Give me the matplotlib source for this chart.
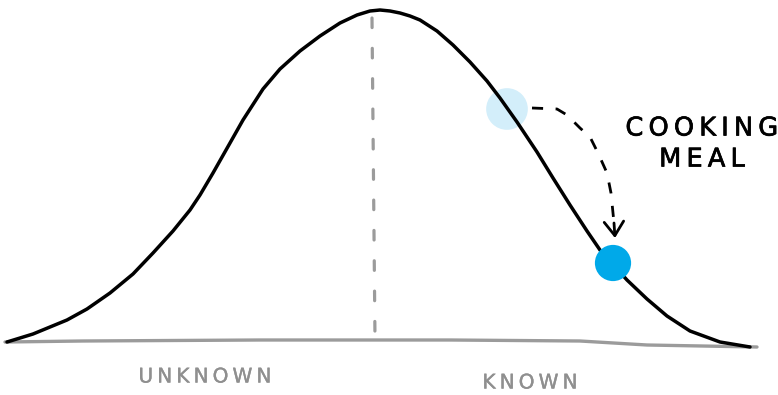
import matplotlib

matplotlib.use("Agg")

import matplotlib.patheffects as pe
import matplotlib.pyplot as plt

# values, in picture units (x to the right, y = height above the bottom edge)
FIG_W, FIG_H = 778, 395

curve_x = [7, 33, 67, 87, 110, 133, 153, 173, 190, 200, 213, 230, 243, 263, 280, 300, 320,
           340, 357, 370, 380, 390, 400, 410, 420, 437, 453, 470, 487, 500, 517, 537, 553,
           570, 587, 600, 627, 647, 667, 690, 720, 750]
curve_y = [53, 61, 75, 86, 102, 121, 142, 164, 185, 200, 222, 252, 275, 306, 326, 344, 359,
           372, 380, 384, 385, 384, 382, 379, 375, 364, 350, 333, 314, 297, 273, 243, 217,
           190, 164, 145, 115, 96, 79, 64, 53, 48]

base_x = [5, 83, 260, 450, 580, 647, 757]
base_y = [53, 54, 55, 55, 54, 50, 48]

mean_x = [372, 375]
mean_y = [377, 55]

arrow_x = [532, 557, 567, 580, 590, 598, 607, 611, 613, 614]
arrow_y = [287, 286, 280, 267, 258, 242, 222, 202, 182, 172]
arrow_tip = (615, 157)

before_point = (507, 286)
after_point = (613, 132)

label_text = "C\u2009O\u2009O\u2009K\u2009I\u2009N\u2009G\nM\u2009E\u2009A\u2009L"
label_pos = (702, 251)
axis_labels = ["U\u2009N\u2009K\u2009N\u2009O\u2009W\u2009N", "K\u2009N\u2009O\u2009W\u2009N"]
axis_label_x = [205, 530]
axis_label_y = [18, 12]

fig = plt.figure(figsize=(FIG_W / 100, FIG_H / 100), dpi=100)
ax = fig.add_axes([0, 0, 1, 1])
ax.set_xlim(0, FIG_W)
ax.set_ylim(0, FIG_H)
ax.axis("off")

# baseline and mean marker
ax.plot(base_x, base_y, color="#9b9b9b", lw=2.4, solid_capstyle="round", zorder=1)
ax.plot(mean_x, mean_y, color="#9b9b9b", lw=2.3, dashes=(3, 6.5), dash_capstyle="round", zorder=1)

# bell curve
ax.plot(curve_x, curve_y, color="black", lw=2.5, solid_joinstyle="round", solid_capstyle="round", zorder=2)

# points before / after
ax.scatter([before_point[0]], [before_point[1]], s=900, color="#d3eefa", edgecolors="none", zorder=1)
ax.scatter([after_point[0]], [after_point[1]], s=680, color="#00a9e9", edgecolors="none", zorder=3)

# dashed move arrow
ax.plot(arrow_x, arrow_y, color="black", lw=2.0, dashes=(4, 4.5), zorder=2)
ax.annotate(
    "",
    xy=arrow_tip,
    xytext=(arrow_x[-1], arrow_y[-1]),
    arrowprops=dict(arrowstyle="->,head_length=0.5,head_width=0.35", color="black", lw=2.0,
                    mutation_scale=20, shrinkA=0, shrinkB=0),
    zorder=2,
)

ax.text(label_pos[0], label_pos[1], label_text, ha="center", va="center", fontsize=18.5,
        linespacing=1.25, color="black", family="DejaVu Sans",
        path_effects=[pe.withStroke(linewidth=0.5, foreground="black")])

for text, x, y in zip(axis_labels, axis_label_x, axis_label_y):
    ax.text(x, y, text, ha="center", va="center", fontsize=14.5, color="#8f8f8f", family="DejaVu Sans",
            path_effects=[pe.withStroke(linewidth=0.25, foreground="#8f8f8f")])

fig.savefig("out.png", dpi=100)
